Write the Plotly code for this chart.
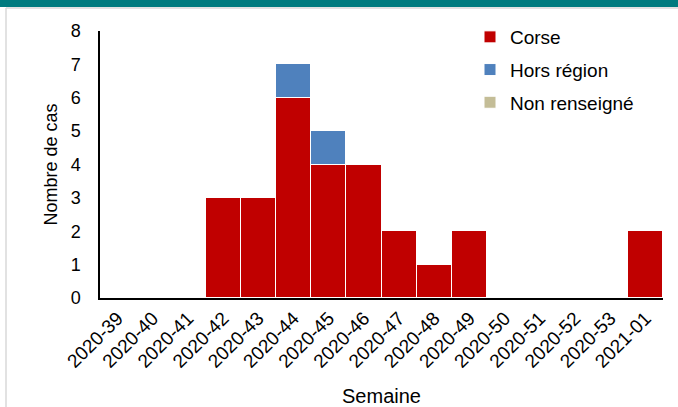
import plotly.graph_objects as go

weeks = ["2020-39", "2020-40", "2020-41", "2020-42", "2020-43", "2020-44", "2020-45",
         "2020-46", "2020-47", "2020-48", "2020-49", "2020-50", "2020-51", "2020-52",
         "2020-53", "2021-01"]
corse = [0, 0, 0, 3, 3, 6, 4, 4, 2, 1, 2, 0, 0, 0, 0, 2]
hors_region = [0, 0, 0, 0, 0, 1, 1, 0, 0, 0, 0, 0, 0, 0, 0, 0]
non_renseigne = [0] * 16

W, H = 678, 407
ml, mr, mt, mb = 100, 15, 31, 109
pw, ph = W - ml - mr, H - mt - mb

def px_x(x):
    return (x - ml) / pw

def px_y(y):
    return (H - mb - y) / ph

font = "Liberation Sans, Arial, sans-serif"

fig = go.Figure()
for name, vals, col in [("Corse", corse, "#c00000"),
                        ("Hors région", hors_region, "#4f81bd"),
                        ("Non renseigné", non_renseigne, "#c4bd97")]:
    fig.add_trace(go.Bar(x=weeks, y=vals, name=name, legendgroup=name,
                         marker=dict(color=col, line=dict(color="white", width=1))))

fig.update_layout(
    width=W, height=H,
    margin=dict(l=ml, r=mr, t=mt, b=mb, autoexpand=False),
    barmode="stack", bargap=0,
    plot_bgcolor="white", paper_bgcolor="white",
    font=dict(family=font, size=18, color="#000000"),
    legend=dict(x=px_x(470), y=px_y(18), xanchor="left", yanchor="top",
                font=dict(size=19), traceorder="grouped", tracegroupgap=5,
                bgcolor="rgba(0,0,0,0)", itemwidth=30),
    xaxis=dict(type="category", tickangle=-45, showline=True, linecolor="black",
               linewidth=1.5, ticks="", tickfont=dict(size=19), automargin=False,
               title=dict(text="Semaine", font=dict(size=20), standoff=20)),
    yaxis=dict(range=[0, 8], dtick=1, showgrid=False, showline=True,
               linecolor="black", linewidth=1.5, ticks="", zeroline=False,
               tickfont=dict(size=18), ticklabelstandoff=14, automargin=False,
               title=dict(text="Nombre de cas", font=dict(size=18), standoff=8)),
    shapes=[
        dict(type="rect", xref="paper", yref="paper", x0=px_x(0), x1=px_x(W),
             y0=px_y(7), y1=px_y(0), fillcolor="#007b7f", line=dict(width=0), layer="above"),
        dict(type="line", xref="paper", yref="paper", x0=px_x(6), x1=px_x(W),
             y0=px_y(8), y1=px_y(8), line=dict(color="#d9d9d9", width=1.5)),
        dict(type="line", xref="paper", yref="paper", x0=px_x(6), x1=px_x(6),
             y0=px_y(H), y1=px_y(8), line=dict(color="#d9d9d9", width=1.5)),
    ],
)

fig.write_html("out.html", config={"displayModeBar": False},
               post_script="document.body.style.margin='0px';")
